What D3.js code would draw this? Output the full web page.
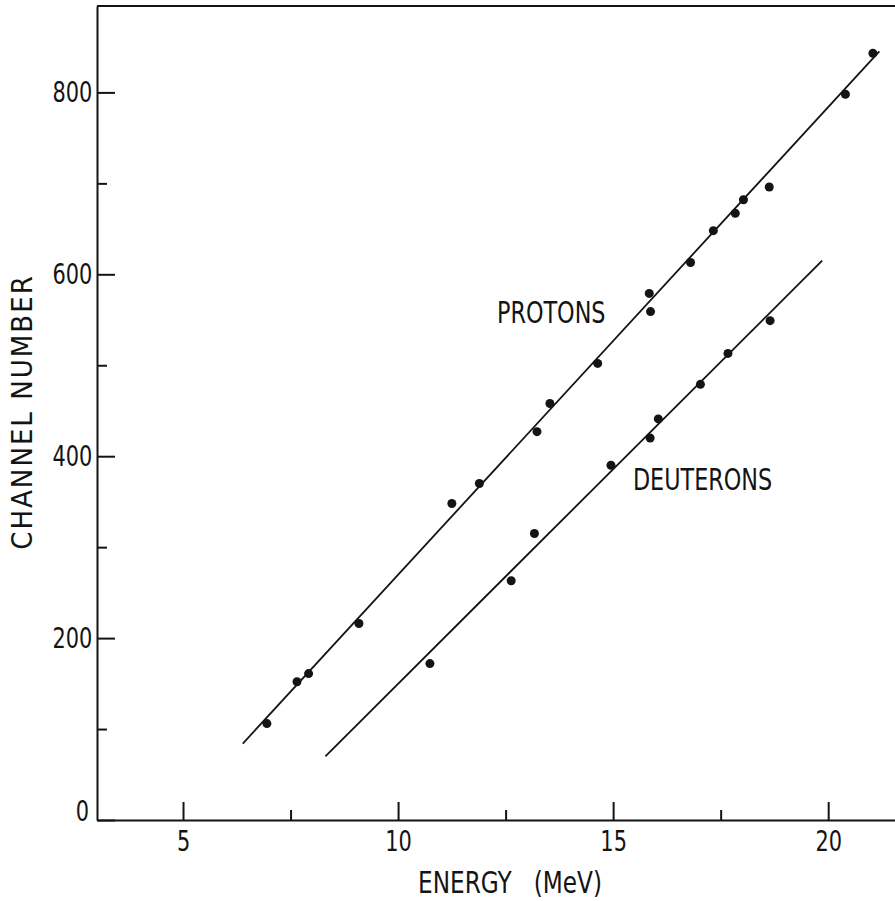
<!DOCTYPE html>
<html>
<head>
<meta charset="utf-8">
<script src="https://cdn.jsdelivr.net/npm/d3@7"></script>
<style>
  body { margin: 0; background: #fff; }
  svg text { font-family: "DejaVu Sans Condensed", "DejaVu Sans", sans-serif; font-stretch: condensed; fill: #141414; }
</style>
</head>
<body>
<svg id="chart" width="895" height="901"></svg>
<script>
// energy (MeV) / channel number
var protonE = [6.95, 7.65, 7.92, 9.09, 11.25, 11.89, 13.23, 13.53, 14.64, 15.84, 15.87, 16.80, 17.33, 17.84, 18.03, 18.63, 20.40, 21.04];
var protonCh = [106, 152, 161, 216, 348, 370, 427, 458, 502, 579, 559, 613, 648, 667, 682, 696, 798, 843];

var deuteronE = [10.74, 12.63, 13.17, 14.95, 15.86, 16.05, 17.03, 17.67, 18.65];
var deuteronCh = [172, 263, 315, 390, 420, 441, 479, 513, 549];

// fitted straight lines (end points)
var protonFit = [[6.39, 84], [21.19, 845]];
var deuteronFit = [[8.31, 70], [19.86, 615]];

var xMajor = [5, 10, 15, 20];
var xMinor = [7.5, 12.5, 17.5];
var yMajor = [0, 200, 400, 600, 800];
var yMinor = [100, 300, 500, 700];

var svg = d3.select('#chart');
var ink = '#141414';

var x = d3.scaleLinear().domain([3, 21.6]).range([97, 897]);
var y = d3.scaleLinear().domain([0, 895]).range([820, 6]);

// x axis
var gx = svg.append('g').attr('transform', 'translate(0,' + y(0) + ')');
gx.call(d3.axisBottom(x).tickValues(xMajor).tickSizeInner(-18).tickSizeOuter(0).tickPadding(10));
svg.append('g').attr('transform', 'translate(0,' + y(0) + ')')
  .call(d3.axisBottom(x).tickValues(xMinor).tickSizeInner(-10).tickSizeOuter(0).tickFormat(''))
  .select('.domain').remove();

// y axis
var gy = svg.append('g').attr('transform', 'translate(' + x(3) + ',0)');
gy.call(d3.axisLeft(y).tickValues(yMajor).tickSizeInner(-18).tickSizeOuter(0).tickPadding(6));
svg.append('g').attr('transform', 'translate(' + x(3) + ',0)')
  .call(d3.axisLeft(y).tickValues(yMinor).tickSizeInner(-10).tickSizeOuter(0).tickFormat(''))
  .select('.domain').remove();

svg.selectAll('.domain, .tick line').attr('stroke', ink).attr('stroke-width', 2);
svg.selectAll('.tick text')
  .attr('font-size', 29)
  .attr('font-family', null)
  .attr('transform', 'scale(0.8,1)');
gy.selectAll('.tick text').filter(function (d) { return d === 0; })
  .attr('x', -10).attr('dy', '0.0em');

// top frame line
svg.append('line')
  .attr('x1', x(3)).attr('x2', x(21.6))
  .attr('y1', y(895)).attr('y2', y(895))
  .attr('stroke', ink).attr('stroke-width', 2);

// fitted lines
var line = d3.line().x(function (d) { return x(d[0]); }).y(function (d) { return y(d[1]); });
[protonFit, deuteronFit].forEach(function (fit) {
  svg.append('path').datum(fit)
    .attr('d', line)
    .attr('fill', 'none')
    .attr('stroke', ink)
    .attr('stroke-width', 1.8);
});

// data points
function drawPoints(es, chs) {
  svg.append('g').selectAll('circle')
    .data(es.map(function (e, i) { return [e, chs[i]]; }))
    .join('circle')
    .attr('cx', function (d) { return x(d[0]); })
    .attr('cy', function (d) { return y(d[1]); })
    .attr('r', 4.5)
    .attr('fill', ink);
}
drawPoints(protonE, protonCh);
drawPoints(deuteronE, deuteronCh);

// labels
function label(txt, px, py, size, sx) {
  svg.append('g').attr('transform', 'translate(' + px + ',' + py + ')')
    .append('text')
    .attr('font-size', size)
    .attr('transform', 'scale(' + sx + ',1)')
    .style('white-space', 'pre')
    .text(txt);
}
label('PROTONS', x(12.30), y(546), 31, 0.8);
label('DEUTERONS', x(15.46), y(363), 31, 0.8);
label('ENERGY   (MeV)', 418, 893, 30, 0.86);

svg.append('text')
  .attr('transform', 'translate(32,412) rotate(-90)')
  .attr('text-anchor', 'middle')
  .attr('font-size', 29)
  .attr('letter-spacing', 2)
  .text('CHANNEL NUMBER');
</script>
</body>
</html>
